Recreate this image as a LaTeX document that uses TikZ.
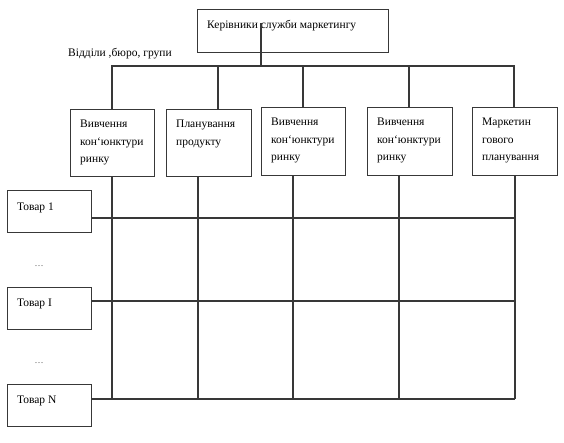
\documentclass[tikz,border=0pt]{standalone}
\usepackage{fontspec}
\setmainfont{Liberation Serif}
\usetikzlibrary{calc}
\begin{document}
\begin{tikzpicture}[x=1pt,y=-1pt,
  ln/.style={draw=black!78, line width=1.2pt},
  bx/.style={ln, rectangle, anchor=north west, inner sep=0pt, fill=none},
  txt/.style={anchor=north west, align=left, inner sep=0pt, text=black,
    font=\fontsize{11.5}{17.5}\selectfont},
  dotsty/.style={font=\fontsize{9}{9}\selectfont, text=black!70, inner sep=0pt}
]
\useasboundingbox (0,0) rectangle (564,443);
% top box
\node[bx, minimum width=191pt, minimum height=43pt] (top) at (197,9) {};
\node[txt] (ttop) at (207,20) {Керівники служби маркетингу};
\node[txt] (lab) at (68,48) {Відділи ,бюро, групи};
% department boxes
\node[bx, minimum width=84pt, minimum height=67pt] (d1) at (70,109) {};
\node[bx, minimum width=85pt, minimum height=67pt] (d2) at (166,109) {};
\node[bx, minimum width=84pt, minimum height=68pt] (d3) at (261,107) {};
\node[bx, minimum width=85pt, minimum height=68pt] (d4) at (367,107) {};
\node[bx, minimum width=85pt, minimum height=68pt] (d5) at (472,107) {};
\node[txt] (t1) at (80,120) {Вивчення\\кон`юнктури\\ринку};
\node[txt] (t2) at (176,120) {Планування\\продукту};
\node[txt] (t3) at (271,118) {Вивчення\\кон`юнктури\\ринку};
\node[txt] (t4) at (377,118) {Вивчення\\кон`юнктури\\ринку};
\node[txt] (t5) at (482,118) {Маркетин\\гового\\планування};
% product boxes
\node[bx, minimum width=84pt, minimum height=42pt] (g1) at (7,190) {};
\node[bx, minimum width=84pt, minimum height=42pt] (g2) at (7,287) {};
\node[bx, minimum width=84pt, minimum height=42pt] (g3) at (7,384) {};
\node[txt] (tg1) at (17,203) {Товар 1};
\node[txt] (tg2) at (17,299) {Товар I};
\node[txt] (tg3) at (17,396) {Товар N};
\node[dotsty] (dots1) at (39,266) {\dots};
\node[dotsty] (dots2) at (39,363) {\dots};
% hierarchy connectors
\coordinate (src) at (261,23);
\coordinate (bus) at (261,66);
\draw[ln] (src) -- (bus);
\draw[ln] (d1.north -| 112,0) |- (bus) -| (d5.north -| 514,0);
\draw[ln] (bus -| 218,0) -- (d2.north -| 218,0);
\draw[ln] (bus -| 303,0) -- (d3.north -| 303,0);
\draw[ln] (bus -| 409,0) -- (d4.north -| 409,0);
% grid
\coordinate (gb) at (0,399);
\draw[ln] (d1.south -| 112,0) -- (gb -| 112,0);
\draw[ln] (d2.south -| 198,0) -- (gb -| 198,0);
\draw[ln] (d3.south -| 293,0) -- (gb -| 293,0);
\draw[ln] (d4.south -| 399,0) -- (gb -| 399,0);
\draw[ln] (d5.south -| 515,0) -- (gb -| 515,0);
\draw[ln] (g1.east |- 0,218) -- (515,218);
\draw[ln] (g2.east |- 0,301) -- (515,301);
\draw[ln] (g3.east |- 0,399) -- (515,399);
\end{tikzpicture}
\end{document}
